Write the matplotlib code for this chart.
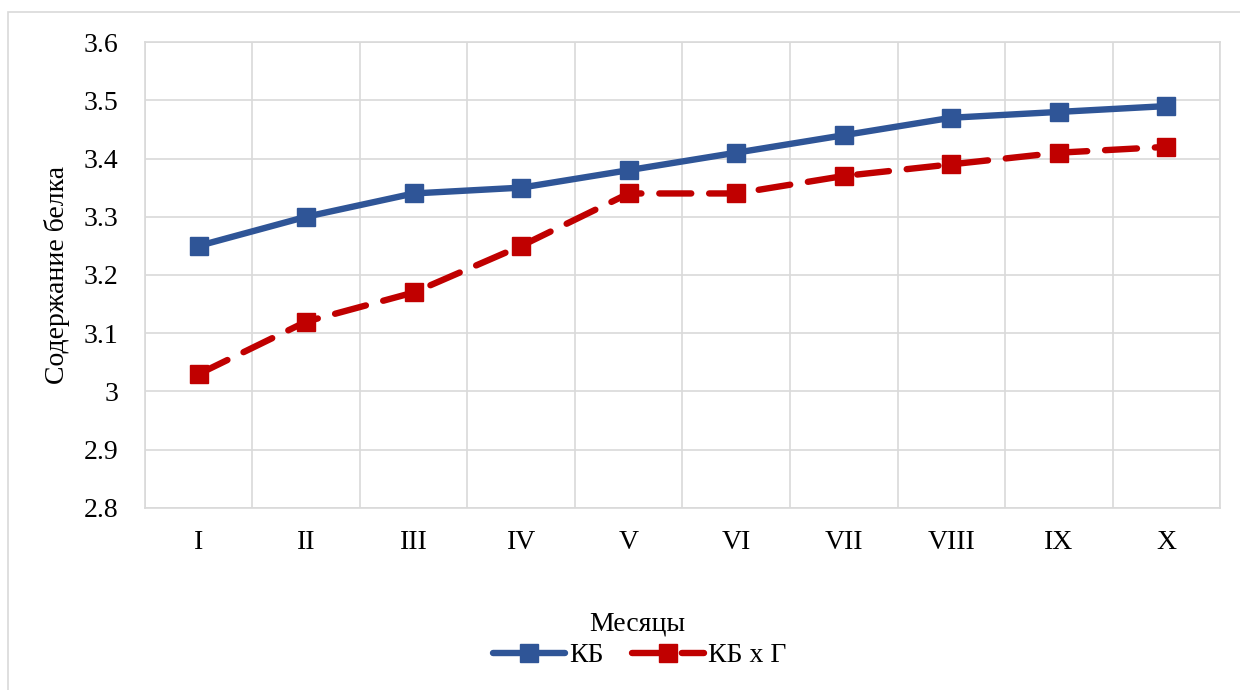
import matplotlib
matplotlib.use('Agg')
import matplotlib.pyplot as plt
from matplotlib.patches import Rectangle

plt.rcParams['font.family'] = ['Liberation Serif', 'DejaVu Serif']

# данные
months = ['I', 'II', 'III', 'IV', 'V', 'VI', 'VII', 'VIII', 'IX', 'X']
kb = [3.25, 3.30, 3.34, 3.35, 3.38, 3.41, 3.44, 3.47, 3.48, 3.49]
kb_g = [3.03, 3.12, 3.17, 3.25, 3.34, 3.34, 3.37, 3.39, 3.41, 3.42]
yticks = [2.8, 2.9, 3.0, 3.1, 3.2, 3.3, 3.4, 3.5, 3.6]
ytick_labels = ['2.8', '2.9', '3', '3.1', '3.2', '3.3', '3.4', '3.5', '3.6']

fig = plt.figure(figsize=(12.4, 6.9), dpi=100)
ax = fig.add_axes([0.1169, 0.2638, 0.867, 0.6753])

# рамка диаграммы
fig.patches.append(Rectangle((8 / 1240, -0.05), 1.2, 678 / 690 + 0.05,
                             transform=fig.transFigure, fill=False,
                             edgecolor='#d9d9d9', linewidth=1.2))

x = list(range(len(months)))
ax.plot(x, kb, color='#2F5597', linewidth=4.6, marker='s', markersize=13,
        solid_capstyle='round', label='КБ', zorder=3)
ax.plot(x, kb_g, color='#C00000', linewidth=4.6, marker='s', markersize=13,
        linestyle=(0, (5.0, 2.8)), dash_capstyle='round', label='КБ x Г', zorder=3)

ax.set_xlim(-0.5, len(months) - 0.5)
ax.set_ylim(2.8, 3.6)
ax.set_yticks(yticks)
ax.set_yticklabels(ytick_labels)
ax.set_xticks(x)
ax.set_xticklabels(months)
ax.set_xticks([i - 0.5 for i in range(len(months) + 1)], minor=True)
ax.grid(True, axis='y', color='#d9d9d9', linewidth=1.2)
ax.grid(True, axis='x', which='minor', color='#d9d9d9', linewidth=1.2)
ax.grid(False, axis='x', which='major')
ax.set_axisbelow(True)
for s in ax.spines.values():
    s.set_color('#d9d9d9')
    s.set_linewidth(1.2)
ax.tick_params(axis='both', which='both', length=0, labelsize=20)
ax.tick_params(axis='x', pad=16)
ax.tick_params(axis='y', pad=19)

ax.set_ylabel('Содержание белка', fontsize=20, labelpad=10)
fig.text(0.514, 0.095, 'Месяцы', fontsize=20, ha='center', va='center')
fig.legend(loc='center', bbox_to_anchor=(0.516, 0.05), ncol=2, frameon=False,
           fontsize=20, handlelength=2.6, columnspacing=1.0, handletextpad=0.15,
           borderpad=0.1)

fig.savefig('out.png', dpi=100)
